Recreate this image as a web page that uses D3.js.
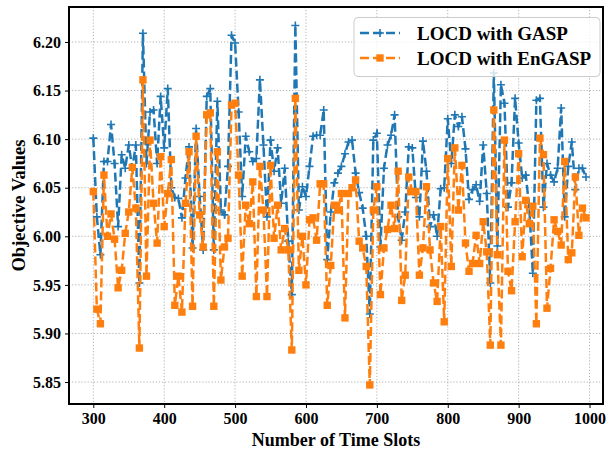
<!DOCTYPE html>
<html>
<head>
<meta charset="utf-8">
<script src="https://cdn.jsdelivr.net/npm/d3@7/dist/d3.min.js"></script>
<style>
  body { margin: 0; background: #fff; }
  svg text { font-family: "Liberation Serif", "Times New Roman", serif; font-weight: bold; fill: #000; }
</style>
</head>
<body>
<div id="chart"></div>
<script>
// time slots 300, 305, ... 995
const timeSlots = d3.range(300, 1000, 5);

const gaspValues = [
  6.101, 6.020, 5.981, 6.077, 6.077, 6.115, 6.075, 6.010, 6.084, 6.070,
  6.094, 6.070, 6.094, 5.952, 6.209, 6.075, 6.128, 6.130, 6.075, 6.144,
  6.091, 6.152, 6.050, 6.040, 6.039, 6.019, 6.060, 6.092, 5.988, 6.111,
  6.041, 5.986, 6.144, 6.152, 5.986, 6.139, 6.027, 6.022, 6.072, 6.207,
  6.199, 6.128, 6.041, 6.103, 6.087, 6.077, 6.080, 6.161, 6.094, 6.020,
  6.099, 6.067, 6.091, 6.034, 6.070, 5.995, 5.940, 6.217, 6.027, 6.051,
  6.041, 6.072, 6.103, 6.104, 6.104, 6.130, 5.976, 6.025, 6.055, 6.065,
  6.072, 6.085, 6.097, 6.099, 6.065, 6.045, 6.029, 6.000, 5.920, 6.099,
  6.106, 5.989, 6.070, 6.094, 6.104, 6.125, 6.020, 5.996, 6.025, 6.092,
  6.091, 6.040, 6.020, 6.098, 6.067, 6.010, 6.022, 6.000, 6.049, 6.050,
  6.121, 6.075, 6.125, 6.113, 6.123, 6.090, 6.038, 6.048, 6.053, 6.036,
  6.094, 6.044, 5.952, 6.168, 5.990, 6.156, 6.137, 6.030, 6.055, 6.142,
  6.096, 6.060, 6.063, 6.030, 5.962, 6.140, 6.142, 6.030, 6.075, 6.063,
  6.056, 6.070, 6.132, 6.020, 6.072, 6.097, 6.048, 6.070, 6.070, 6.061
];

const engaspValues = [
  6.046, 5.925, 5.910, 6.063, 6.000, 6.023, 5.997, 5.947, 5.965, 6.003,
  6.025, 6.071, 6.029, 5.885, 6.161, 5.959, 6.099, 6.034, 5.993, 6.082,
  6.010, 6.044, 6.079, 5.929, 5.959, 5.922, 6.034, 6.087, 5.928, 6.103,
  6.022, 5.989, 6.125, 6.127, 5.928, 6.087, 5.955, 5.989, 5.998, 6.135,
  6.137, 6.063, 5.959, 6.032, 6.013, 6.056, 5.938, 6.072, 6.027, 5.938,
  6.073, 5.998, 6.032, 5.986, 6.008, 5.986, 5.883, 6.142, 5.965, 6.000,
  5.950, 6.017, 6.019, 5.996, 6.054, 6.054, 5.929, 5.970, 6.032, 6.027,
  6.044, 5.916, 6.044, 6.050, 6.058, 5.995, 5.988, 5.969, 5.847, 6.027,
  6.051, 5.940, 5.988, 6.007, 6.032, 6.008, 6.067, 5.934, 5.960, 6.061,
  6.046, 6.046, 5.960, 5.988, 6.051, 5.986, 5.952, 5.933, 6.010, 5.912,
  6.080, 5.969, 6.091, 6.027, 6.073, 5.993, 5.964, 5.972, 6.001, 5.972,
  6.015, 5.984, 5.888, 6.130, 5.981, 5.888, 6.099, 5.964, 5.944, 6.015,
  6.085, 5.979, 6.037, 6.013, 6.031, 5.910, 6.101, 6.084, 5.926, 5.967,
  6.017, 6.005, 5.991, 6.077, 5.976, 5.983, 6.061, 6.001, 6.029, 6.019
];

const xTicks = [300, 400, 500, 600, 700, 800, 900, 1000];
const yTicks = [5.85, 5.90, 5.95, 6.00, 6.05, 6.10, 6.15, 6.20];
const seriesNames = ['LOCD with GASP', 'LOCD with EnGASP'];
const seriesColors = ['#1f77b4', '#ff7f0e'];

const width = 607, height = 451;
const margin = {top: 7, right: 4, bottom: 47, left: 69};
const innerW = width - margin.left - margin.right;
const innerH = height - margin.top - margin.bottom;

const svg = d3.select('#chart').append('svg')
  .attr('width', width)
  .attr('height', height);

const g = svg.append('g').attr('transform', `translate(${margin.left},${margin.top})`);

const x = d3.scaleLinear().domain([265.7, 1019]).range([0, innerW]);
const y = d3.scaleLinear().domain([5.8274, 6.236]).range([innerH, 0]);

// grid
g.append('g').selectAll('line').data(xTicks).enter().append('line')
  .attr('x1', d => x(d)).attr('x2', d => x(d))
  .attr('y1', 0).attr('y2', innerH)
  .style('stroke', '#b0b0b0').style('stroke-width', 1).style('stroke-dasharray', '1.2,1.9');
g.append('g').selectAll('line').data(yTicks).enter().append('line')
  .attr('x1', 0).attr('x2', innerW)
  .attr('y1', d => y(d)).attr('y2', d => y(d))
  .style('stroke', '#b0b0b0').style('stroke-width', 1).style('stroke-dasharray', '1.2,1.9');

// axes
const xAxis = g.append('g').attr('transform', `translate(0,${innerH})`)
  .call(d3.axisBottom(x).tickValues(xTicks).tickFormat(d3.format('d')).tickSizeOuter(0).tickSize(4).tickPadding(5));
const yAxis = g.append('g')
  .call(d3.axisLeft(y).tickValues(yTicks).tickFormat(d3.format('.2f')).tickSizeOuter(0).tickSize(4).tickPadding(4));
[xAxis, yAxis].forEach(a => {
  a.select('.domain').remove();
  a.selectAll('.tick line').style('stroke', '#000').style('stroke-width', 1);
  a.selectAll('.tick text').style('font-size', '16px').style('font-family', '"Liberation Serif", serif').style('font-weight', 'bold');
});

// series
const seriesData = [gaspValues, engaspValues].map((vals, k) =>
  timeSlots.map((t, i) => ({t: t, v: vals[i]})));

const line = d3.line().x(d => x(d.t)).y(d => y(d.v));

const plot = g.append('g');

seriesData.forEach((data, k) => {
  plot.append('path')
    .datum(data)
    .attr('d', line)
    .style('fill', 'none')
    .style('stroke', seriesColors[k])
    .style('stroke-width', 2.5)
    .style('stroke-dasharray', '9,4');

  if (k === 0) {
    plot.append('g').selectAll('path').data(data).enter().append('path')
      .attr('d', d => `M${x(d.t) - 4},${y(d.v)}h8M${x(d.t)},${y(d.v) - 4}v8`)
      .style('stroke', seriesColors[k]).style('stroke-width', 1.6).style('fill', 'none');
  } else {
    plot.append('g').selectAll('rect').data(data).enter().append('rect')
      .attr('x', d => x(d.t) - 3.7).attr('y', d => y(d.v) - 3.7)
      .attr('width', 7.4).attr('height', 7.4)
      .style('fill', seriesColors[k]);
  }
});

// frame
g.append('rect').attr('width', innerW).attr('height', innerH)
  .style('fill', 'none').style('stroke', '#000').style('stroke-width', 2);

// axis labels
svg.append('text')
  .attr('x', margin.left + innerW / 2).attr('y', 446)
  .attr('text-anchor', 'middle')
  .style('font-size', '18px')
  .text('Number of Time Slots');
svg.append('text')
  .attr('transform', `translate(25,${margin.top + innerH / 2}) rotate(-90)`)
  .attr('text-anchor', 'middle')
  .style('font-size', '18.5px')
  .text('Objective Values');

// legend
const legend = svg.append('g');
legend.append('rect')
  .attr('x', 354).attr('y', 17.5).attr('width', 246).attr('height', 59)
  .attr('rx', 4)
  .style('fill', 'rgba(255,255,255,0.8)').style('stroke', '#cccccc').style('stroke-width', 1);

seriesNames.forEach((name, k) => {
  const ly = 33 + k * 25;
  legend.append('line')
    .attr('x1', 360).attr('x2', 400).attr('y1', ly).attr('y2', ly)
    .style('stroke', seriesColors[k]).style('stroke-width', 2.5).style('stroke-dasharray', '9,4');
  if (k === 0) {
    legend.append('path')
      .attr('d', `M376,${ly}h8M380,${ly - 4}v8`)
      .style('stroke', seriesColors[k]).style('stroke-width', 1.6);
  } else {
    legend.append('rect')
      .attr('x', 376.3).attr('y', ly - 3.7).attr('width', 7.4).attr('height', 7.4)
      .style('fill', seriesColors[k]);
  }
  legend.append('text')
    .attr('x', 417).attr('y', ly + 6.5)
    .style('font-size', '19px')
    .text(name);
});
</script>
</body>
</html>
